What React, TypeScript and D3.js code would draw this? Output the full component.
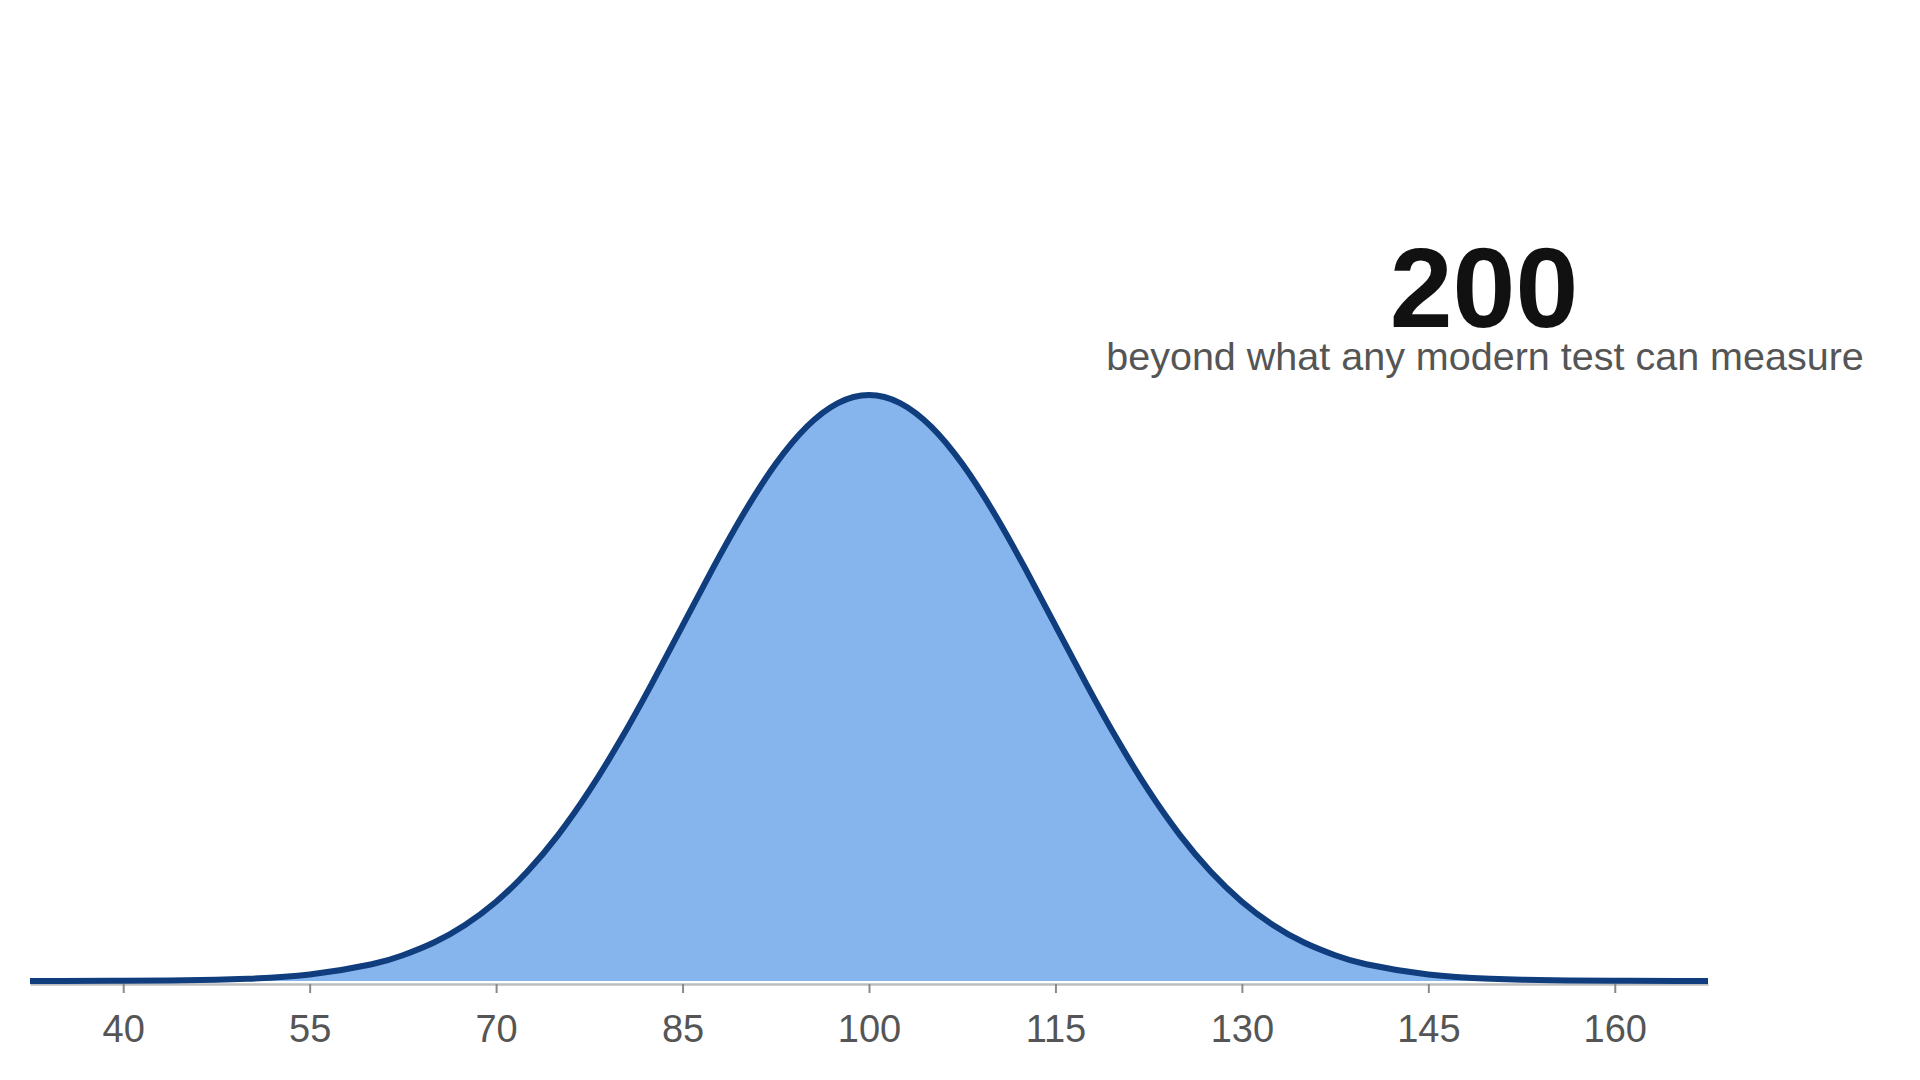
import { useEffect, useRef } from "react";
import * as d3 from "d3";

// IQ score positions and curve height relative to the peak
const iqScores = [
  32.5, 35, 40, 45, 50, 55, 60, 62.5, 65, 67.5, 70, 72.5, 75, 77.5, 80, 82.5,
  85, 87.5, 90, 92.5, 95, 97.5, 100, 102.5, 105, 107.5, 110, 112.5, 115, 117.5,
  120, 122.5, 125, 127.5, 130, 132.5, 135, 137.5, 140, 145, 150, 155, 160, 165,
  167.5,
];
const heights = [
  0.0, 0.0001, 0.0003, 0.0012, 0.0039, 0.0111, 0.0286, 0.0439, 0.0657, 0.0956,
  0.1353, 0.1863, 0.2494, 0.3247, 0.4111, 0.5063, 0.6065, 0.7066, 0.8007,
  0.8825, 0.946, 0.9862, 1.0, 0.9862, 0.946, 0.8825, 0.8007, 0.7066, 0.6065,
  0.5063, 0.4111, 0.3247, 0.2494, 0.1863, 0.1353, 0.0956, 0.0657, 0.0439,
  0.0286, 0.0111, 0.0039, 0.0012, 0.0003, 0.0001, 0.0,
];
const tickValues = [40, 55, 70, 85, 100, 115, 130, 145, 160];

const headline = "200";
const subline = "beyond what any modern test can measure";

type Pt = { iq: number; h: number };

const App = () => {
  const ref = useRef<SVGSVGElement>(null);

  useEffect(() => {
    if (!ref.current) return;

    const width = 1920;
    const height = 1080;
    const axisY = 984;

    const svg = d3.select(ref.current);
    svg.selectAll("*").remove();

    const x = d3.scaleLinear().domain([32.5, 167.5]).range([30, 1708]);
    const y = d3.scaleLinear().domain([0, 1]).range([981, 395]);

    const pts: Pt[] = iqScores.map((d, i) => ({ iq: d, h: heights[i] }));

    // fill under the curve
    svg
      .append("path")
      .datum(pts)
      .attr("fill", "#86b5ee")
      .attr(
        "d",
        d3
          .area<Pt>()
          .x((d) => x(d.iq))
          .y0(y(0))
          .y1((d) => y(d.h))
          .curve(d3.curveNatural)
      );

    // x axis
    svg
      .append("g")
      .attr("transform", `translate(0,${axisY})`)
      .call(
        d3
          .axisBottom(x)
          .tickValues(tickValues)
          .tickSize(9)
          .tickSizeOuter(0)
          .tickPadding(22)
          .tickFormat(d3.format("d"))
      )
      .call((g) =>
        g.select(".domain").attr("stroke", "#bdbdbd").attr("stroke-width", 2.5)
      )
      .call((g) =>
        g.selectAll(".tick line").attr("stroke", "#8a8a8a").attr("stroke-width", 2)
      )
      .call((g) =>
        g
          .selectAll(".tick text")
          .attr("fill", "#555")
          .attr("font-size", 38)
          .attr("font-family", "'Liberation Sans', Arial, sans-serif")
      );

    // curve outline
    svg
      .append("path")
      .datum(pts)
      .attr("fill", "none")
      .attr("stroke", "#0f3d7d")
      .attr("stroke-width", 6)
      .attr("stroke-linejoin", "round")
      .attr(
        "d",
        d3
          .line<Pt>()
          .x((d) => x(d.iq))
          .y((d) => y(d.h))
          .curve(d3.curveNatural)
      );

    // annotation
    svg
      .append("text")
      .attr("x", 1484)
      .attr("y", 327)
      .attr("text-anchor", "middle")
      .attr("font-family", "'Liberation Sans', Arial, sans-serif")
      .attr("font-weight", "bold")
      .attr("font-size", 113)
      .attr("fill", "#111")
      .text(headline);

    svg
      .append("text")
      .attr("x", 1485)
      .attr("y", 370)
      .attr("text-anchor", "middle")
      .attr("font-family", "'Liberation Sans', Arial, sans-serif")
      .attr("font-size", 39.5)
      .attr("fill", "#555")
      .text(subline);

    svg.attr("width", width).attr("height", height);
  }, []);

  return (
    <svg
      ref={ref}
      width={1920}
      height={1080}
      style={{ position: "absolute", left: 0, top: 0, background: "#fff" }}
    />
  );
};

export default App;
